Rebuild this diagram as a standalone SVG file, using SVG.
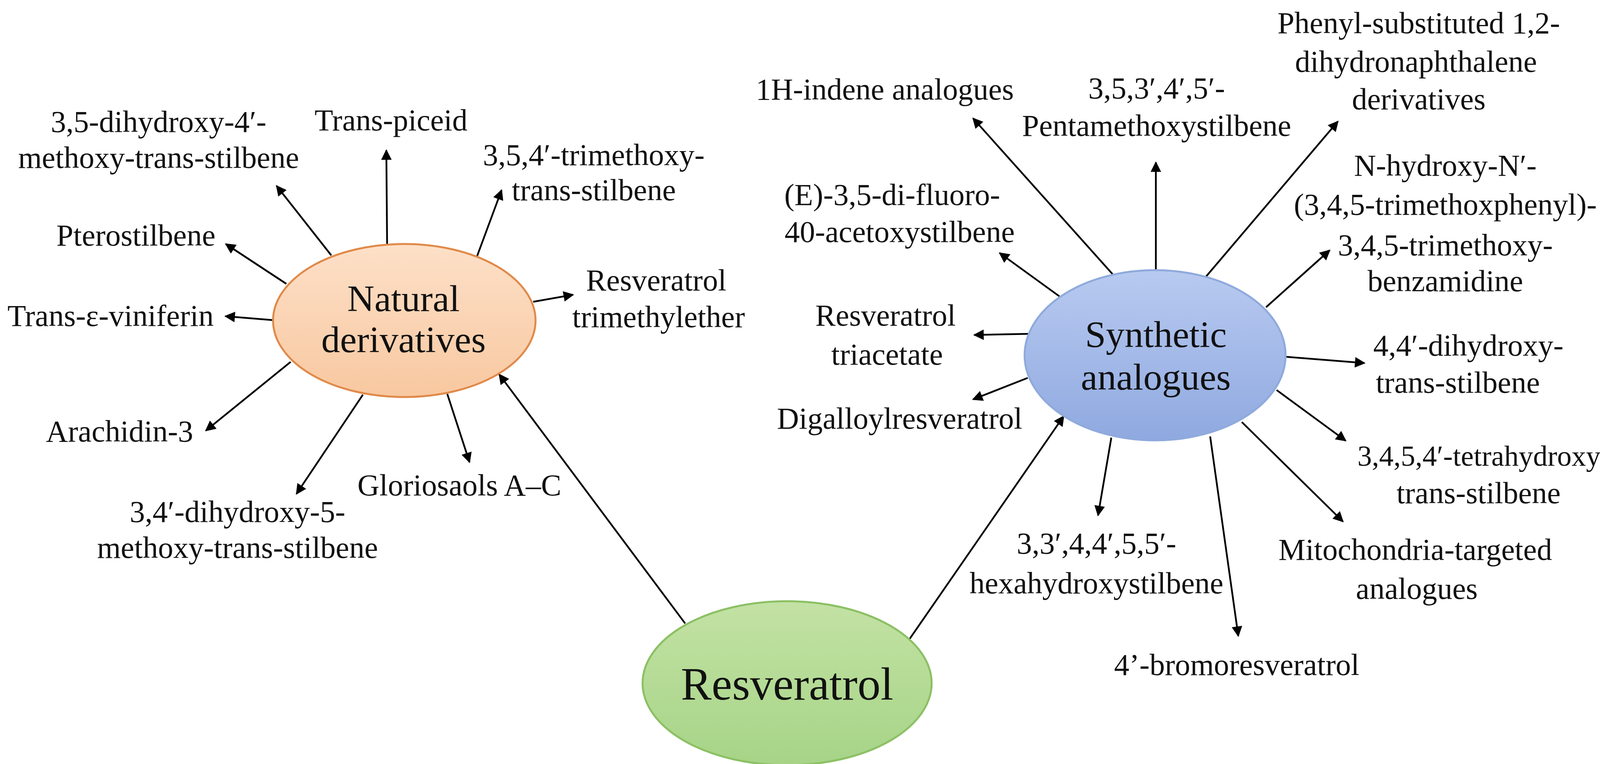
<svg xmlns="http://www.w3.org/2000/svg" width="4138" height="1957" viewBox="0 0 4138 1957">
<style>
text{font-family:"Liberation Serif","Times New Roman",serif;font-size:78px;fill:#111;text-anchor:middle}
.big{font-size:96px}
.huge{font-size:118px}
.c line{stroke:#000;stroke-width:4.5;marker-end:url(#ah)}
</style>
<defs>
<marker id="ah" viewBox="0 0 10 10" refX="9" refY="5" markerWidth="7" markerHeight="6" markerUnits="strokeWidth" orient="auto"><path d="M0,0L10,5L0,10z" fill="#000"/></marker>
<linearGradient id="gN" x1="0" y1="0" x2="0" y2="1"><stop offset="0" stop-color="#fde0c8"/><stop offset="1" stop-color="#f8c8a0"/></linearGradient>
<linearGradient id="gS" x1="0" y1="0" x2="0" y2="1"><stop offset="0" stop-color="#b8caf0"/><stop offset="1" stop-color="#8fa9e0"/></linearGradient>
<linearGradient id="gR" x1="0" y1="0" x2="0" y2="1"><stop offset="0" stop-color="#c3e2a4"/><stop offset="1" stop-color="#a6d487"/></linearGradient>
</defs>
<rect width="4138" height="1957" fill="#fff"/>
<g class="c" id="connectors">
<line x1="848" y1="654" x2="708" y2="476"/>
<line x1="991" y1="625" x2="989" y2="385"/>
<line x1="1221" y1="657" x2="1284" y2="487"/>
<line x1="733" y1="727" x2="578" y2="625"/>
<line x1="699" y1="820" x2="577" y2="810"/>
<line x1="1365" y1="773" x2="1467" y2="755"/>
<line x1="744" y1="927" x2="527" y2="1103"/>
<line x1="929" y1="1011" x2="759" y2="1265"/>
<line x1="1145" y1="1009" x2="1202" y2="1184"/>
<line x1="1754" y1="1597" x2="1278" y2="959"/>
<line x1="2848" y1="702" x2="2491" y2="303"/>
<line x1="2959" y1="693" x2="2959" y2="416"/>
<line x1="3087" y1="709" x2="3425" y2="311"/>
<line x1="2712" y1="759" x2="2559" y2="648"/>
<line x1="3241" y1="787" x2="3404" y2="641"/>
<line x1="2641" y1="855" x2="2494" y2="858"/>
<line x1="2631" y1="968" x2="2491" y2="1023"/>
<line x1="3293" y1="914" x2="3493" y2="930"/>
<line x1="3268" y1="999" x2="3445" y2="1129"/>
<line x1="3179" y1="1081" x2="3438" y2="1336"/>
<line x1="2845" y1="1121" x2="2811" y2="1320"/>
<line x1="3098" y1="1118" x2="3170" y2="1629"/>
<line x1="2280" y1="1707" x2="2723" y2="1066"/>
</g>
<g id="natural">
<ellipse cx="1035" cy="821" rx="336" ry="196" fill="url(#gN)" stroke="#e08a4a" stroke-width="5"/>
<text class="big" x="1033" y="797">Natural</text>
<text class="big" x="1033" y="902">derivatives</text>
</g>
<g id="synthetic">
<ellipse cx="2957" cy="910" rx="334" ry="218" fill="url(#gS)" stroke="#8faadc" stroke-width="5"/>
<text class="big" x="2959" y="889">Synthetic</text>
<text class="big" x="2959" y="998">analogues</text>
</g>
<g id="resveratrol">
<ellipse cx="2015" cy="1750" rx="370" ry="210" fill="url(#gR)" stroke="#8cc064" stroke-width="5"/>
<text class="huge" x="2015" y="1792">Resveratrol</text>
</g>
<g id="n1"><text x="406" y="338">3,5-dihydroxy-4′-</text><text x="406" y="430">methoxy-trans-stilbene</text></g>
<g id="n2"><text x="1001" y="334">Trans-piceid</text></g>
<g id="n3"><text x="1520" y="423">3,5,4′-trimethoxy-</text><text x="1520" y="513">trans-stilbene</text></g>
<g id="n4"><text x="348" y="629">Pterostilbene</text></g>
<g id="n5"><text x="283" y="835">Trans-ε-viniferin</text></g>
<g id="n6"><text x="1680" y="744">Resveratrol</text><text x="1686" y="838">trimethylether</text></g>
<g id="n7"><text x="306" y="1131">Arachidin-3</text></g>
<g id="n8"><text x="1176" y="1269">Gloriosaols A–C</text></g>
<g id="n9"><text x="608" y="1337">3,4′-dihydroxy-5-</text><text x="608" y="1429">methoxy-trans-stilbene</text></g>
<g id="s1"><text x="2265" y="255">1H-indene analogues</text></g>
<g id="s2"><text x="2961" y="252">3,5,3′,4′,5′-</text><text x="2961" y="348">Pentamethoxystilbene</text></g>
<g id="s3"><text x="3632" y="85">Phenyl-substituted 1,2-</text><text x="3625" y="184">dihydronaphthalene</text><text x="3632" y="280">derivatives</text></g>
<g id="s4"><text x="2284" y="525">(E)-3,5-di-fluoro-</text><text x="2303" y="620">40-acetoxystilbene</text></g>
<g id="s5"><text x="3700" y="450">N-hydroxy-N′-</text><text x="3700" y="550">(3,4,5-trimethoxphenyl)-</text><text x="3700" y="654">3,4,5-trimethoxy-</text><text x="3700" y="746">benzamidine</text></g>
<g id="s6"><text x="2267" y="834">Resveratrol</text><text x="2271" y="934">triacetate</text></g>
<g id="s7"><text x="2303" y="1098">Digalloylresveratrol</text></g>
<g id="s8"><text x="3759" y="911">4,4′-dihydroxy-</text><text x="3732" y="1006">trans-stilbene</text></g>
<g id="s9"><text x="4122" y="1193" style="text-anchor:end;font-size:74px">3,4,5,4′-tetrahydroxy-</text><text x="3785" y="1289">trans-stilbene</text></g>
<g id="s10"><text x="3623" y="1434">Mitochondria-targeted</text><text x="3627" y="1534">analogues</text></g>
<g id="s11"><text x="2807" y="1418">3,3′,4,4′,5,5′-</text><text x="2807" y="1520">hexahydroxystilbene</text></g>
<g id="s12"><text x="3166" y="1729">4’-bromoresveratrol</text></g>
</svg>
